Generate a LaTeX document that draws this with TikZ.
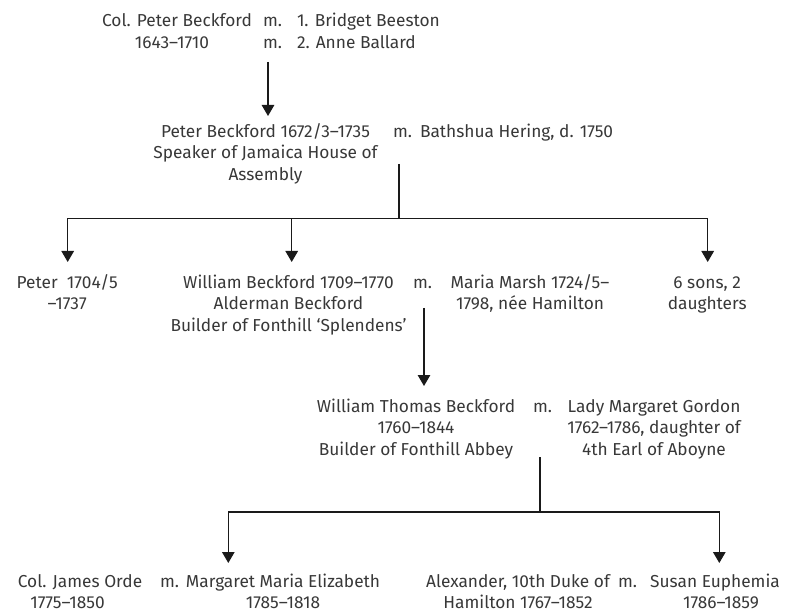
\documentclass[tikz,border=0pt]{standalone}
\usepackage{fontspec}
\setmainfont{Fira Sans}
\usetikzlibrary{arrows.meta}
\definecolor{txt}{HTML}{383838}
\definecolor{ln}{HTML}{1A1A1A}
\newcommand\blk[2]{\begin{tabular}[t]{@{}#1@{}}#2\end{tabular}}
\begin{document}
\begin{tikzpicture}[x=1pt,y=-1pt,
  every node/.style={inner sep=0pt, outer sep=0pt, text=txt, font=\fontsize{17.3}{21.3}\selectfont},
  person/.style={anchor=base},
  lperson/.style={anchor=base west},
  link/.style={draw=ln, line width=1.2pt},
  arr/.style={link, -{Triangle[length=11pt,width=12.5pt]}}]
\useasboundingbox (0,0) rectangle (790,612);
% row 1
\node[person] (cpb) at (177,27) {\blk{c}{Col. Peter Beckford\\1643–1710\hspace*{10pt}}};
\node[lperson] (m1) at (263,27) {\blk{l}{m.\\m.}};
\node[lperson] (w1) at (297,27) {\blk{l}{1. Bridget Beeston\\2. Anne Ballard}};
% row 2
\node[person] (pb) at (265.5,137.5) {\blk{c}{Peter Beckford 1672/3–1735\\Speaker of Jamaica House of\\Assembly}};
\node[lperson] (m2) at (393,137.5) {m.};
\node[lperson] (bh) at (420,137.5) {Bathshua Hering, d. 1750};
% row 3
\node[person] (pj) at (67.2,288.5) {\blk{c}{Peter\ \ 1704/5\\–1737}};
\node[person] (wb) at (288.5,288.5) {\blk{c}{William Beckford 1709–1770\\Alderman Beckford\\Builder of Fonthill ‘Splendens’}};
\node[lperson] (m3) at (413,288.5) {m.};
\node[person] (mm) at (530,288.5) {\blk{c}{Maria Marsh 1724/5–\\1798, née Hamilton}};
\node[person] (sons) at (707.2,288.5) {\blk{c}{6 sons, 2\\daughters}};
% row 4
\node[person] (wtb) at (416,412.5) {\blk{c}{William Thomas Beckford\\1760–1844\\Builder of Fonthill Abbey}};
\node[lperson] (m4) at (533,412.5) {m.};
\node[person] (lmg) at (654,412.5) {\blk{c}{Lady Margaret Gordon\\1762–1786, daughter of\\4th Earl of Aboyne}};
% row 5
\node[person] (jo) at (80,587) {\blk{c}{Col. James Orde\\1775–1850\hspace*{25pt}}};
\node[lperson] (m5) at (160,587) {m.};
\node[person] (mme) at (283,587) {\blk{c}{Margaret Maria Elizabeth\\1785–1818}};
\node[person] (alex) at (518,587) {\blk{c}{Alexander, 10th Duke of\\Hamilton 1767–1852}};
\node[lperson] (m6) at (618,587) {m.};
\node[person] (se) at (715,587) {\blk{c}{Susan Euphemia\\\hspace*{12pt}1786–1859}};
% connectors
\coordinate (a1s) at (268,62);
\coordinate (a1e) at (268,116);
\draw[arr] (a1s) -- (a1e);
\coordinate (v2s) at (399,164);
\coordinate (h2) at (399,218.3);
\coordinate (t3a) at (67.7,262);
\coordinate (t3b) at (291.7,262);
\coordinate (t3c) at (707.7,262);
\draw[link] (v2s) -- (h2);
\draw[arr] (h2) -| (t3a);
\draw[arr] (h2) -| (t3c);
\draw[arr] (t3b |- h2) -- (t3b);
\coordinate (a4s) at (424,308);
\coordinate (a4e) at (424,386);
\draw[arr] (a4s) -- (a4e);
\coordinate (v4s) at (540,457);
\coordinate (h4) at (540,512);
\coordinate (t5a) at (228.3,563);
\coordinate (t5b) at (719.3,563);
\draw[link] (v4s) -- (h4);
\draw[arr] (h4) -| (t5a);
\draw[arr] (h4) -| (t5b);
\end{tikzpicture}
\end{document}
